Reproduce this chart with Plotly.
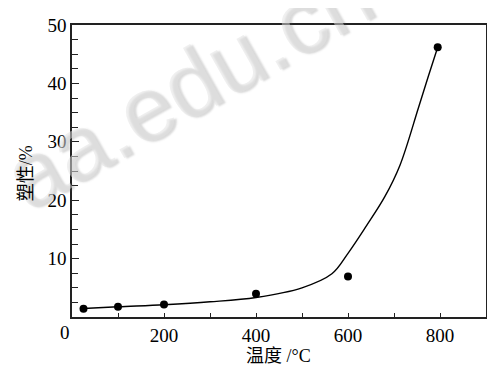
import plotly.graph_objects as go

# measured data points
temp_pts = [25, 100, 200, 400, 600, 795]
plast_pts = [1.4, 1.75, 2.15, 4.0, 6.95, 46.2]

# fitted curve
curve_x = [25, 100, 200, 300, 400, 500, 565, 600, 640, 680, 713, 753, 775, 795]
curve_y = [1.45, 1.75, 2.1, 2.6, 3.35, 5.0, 7.4, 10.9, 15.6, 20.6, 26.0, 35.8, 41.3, 46.2]

x_ticks = [200, 400, 600, 800]
y_ticks = [10, 20, 30, 40, 50]

FONT = "Liberation Serif, Times New Roman, Noto Sans CJK SC, serif"
OFF = 8  # page body margin
W, H = 495 - OFF, 368 - OFF
L, T = 72 - OFF, 15 - OFF
R = W - (488 - OFF)
B = H - (317 - OFF)
PW, PH = W - L - R, H - T - B

def px(xp):
    return (xp - OFF - L) / PW

def py(yp):
    return (H - B - (yp - OFF)) / PH

fig = go.Figure()
fig.add_trace(go.Scatter(x=curve_x, y=curve_y, mode="lines",
                         line=dict(color="black", width=1.4, shape="spline", smoothing=1.0),
                         hoverinfo="skip", showlegend=False))
fig.add_trace(go.Scatter(x=temp_pts, y=plast_pts, mode="markers",
                         marker=dict(color="black", size=8),
                         showlegend=False))

fig.update_layout(
    width=W, height=H,
    margin=dict(l=L, r=R, t=T, b=B, pad=0),
    paper_bgcolor="white", plot_bgcolor="white",
    font=dict(family=FONT, size=19, color="black"),
    xaxis=dict(range=[0, 900], tickvals=x_ticks, ticks="inside", ticklen=4,
               tickwidth=1, tickcolor="#222", showline=True, linecolor="#222",
               linewidth=1.5, mirror=True, showgrid=False, zeroline=False,
               ticklabeloverflow="allow",
               minor=dict(tickvals=[100, 300, 500, 700], ticks="inside", ticklen=4,
                          tickcolor="#222", showgrid=False),
               tickfont=dict(family=FONT, size=19)),
    yaxis=dict(range=[0, 50], tickvals=y_ticks, ticks="inside", ticklen=7,
               tickwidth=1, tickcolor="#222", showline=True, linecolor="#222",
               linewidth=1.5, mirror=True, showgrid=False, zeroline=False,
               ticklabeloverflow="allow",
               minor=dict(dtick=2.5, ticks="inside", ticklen=6, tickcolor="#222",
                          showgrid=False),
               tickfont=dict(family=FONT, size=19)),
)

def ann(text, xp, yp, size, angle=0, color="black", family=FONT, shadow=None):
    f = dict(family=family, size=size, color=color)
    if shadow:
        f["shadow"] = shadow
    return dict(text=text, x=px(xp), y=py(yp), xref="paper", yref="paper",
                xanchor="center", yanchor="middle", showarrow=False,
                textangle=angle, font=f)

annotations = [
    ann("aa.edu.cn", 189, 77, 92, angle=-29.5, color="rgba(225,225,225,0.5)",
        family="Liberation Sans",
        shadow="2px 2px 2px rgba(90,90,90,0.45)"),
    ann("0", 65, 333, 19),
    ann("温度 /°C", 279, 357, 18),
    ann("塑性/%", 26, 168, 18, angle=-90),
]
fig.update_layout(annotations=annotations)

fig.write_html("out.html")
